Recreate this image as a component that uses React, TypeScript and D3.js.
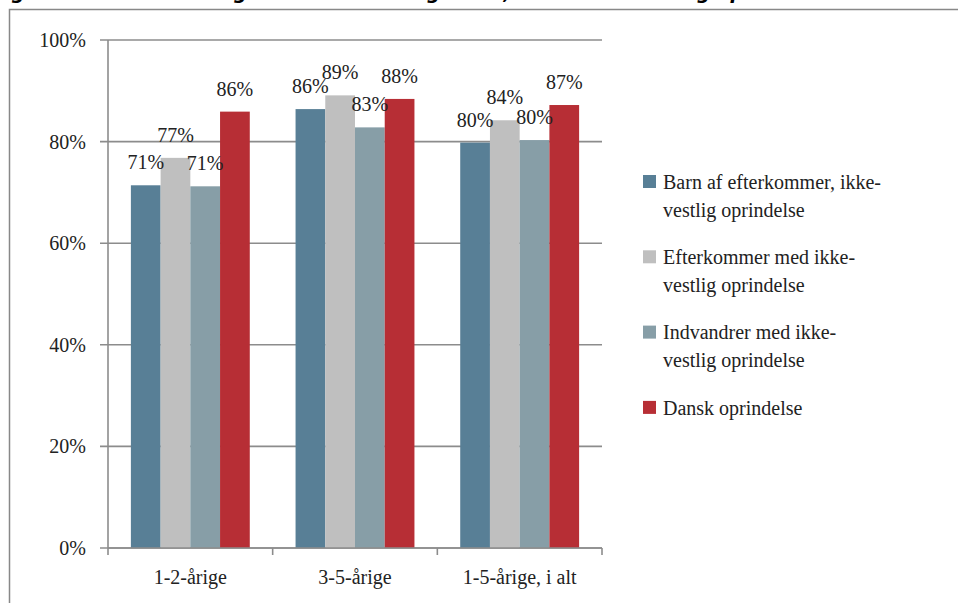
import React from "react";
import * as d3 from "d3";

const categories = ["1-2-årige", "3-5-årige", "1-5-årige, i alt"];
const seriesNames = [
  ["Barn af efterkommer, ikke-", "vestlig oprindelse"],
  ["Efterkommer med ikke-", "vestlig oprindelse"],
  ["Indvandrer med ikke-", "vestlig oprindelse"],
  ["Dansk oprindelse"],
];
const seriesColors = ["#587f96", "#bfbfbf", "#879ea7", "#b72e35"];
const barnAfEfterkommer = [0.714, 0.864, 0.798];
const efterkommer = [0.768, 0.891, 0.842];
const indvandrer = [0.712, 0.828, 0.803];
const dansk = [0.859, 0.884, 0.872];
const seriesValues = [barnAfEfterkommer, efterkommer, indvandrer, dansk];
const yTicks = [0, 0.2, 0.4, 0.6, 0.8, 1.0];
const titleText = "Figur 4.2 Andel 1-5-årige indskrevet i dagtilbud, efter herkomst og oprindelse";

const W = 958;
const H = 603;
const plot = { left: 108, right: 602, top: 40, bottom: 548 };
const serif = "'Liberation Serif', 'DejaVu Serif', serif";
const axisGray = "#8c8c8c";
const txt = { fontFamily: serif, fontSize: "20px" };

export default function App() {
  const y = d3.scaleLinear().domain([0, 1]).range([plot.bottom, plot.top]);
  const x0 = d3.scaleBand<string>().domain(categories).range([plot.left, plot.right]).paddingInner(0).paddingOuter(0);
  const x1 = d3
    .scaleBand<number>()
    .domain(d3.range(seriesValues.length))
    .range([0, x0.bandwidth()])
    .paddingInner(0)
    .paddingOuter(0.77);
  const fmt = d3.format(".0%");

  const boundaries = [...categories.map((c) => x0(c) as number), plot.right];

  return (
    <svg
      width={W}
      height={H}
      style={{ position: "absolute", left: 0, top: 0, background: "#fff" }}
    >
      <rect width={W} height={H} fill="#fff" />
      {/* cropped title */}
      <text x={-8} y={-1} style={{ fontFamily: "'DejaVu Sans', sans-serif", fontWeight: "bold", fontStyle: "italic", fontSize: "19px" }} fill="#000">
        {titleText}
      </text>
      {/* frame */}
      <path d={`M9.5,${H} V9.5 H${W}`} fill="none" stroke="#888" strokeWidth={1.5} />

      {/* gridlines and y ticks */}
      {yTicks.map((t) => (
        <g key={t}>
          <line x1={plot.left - 8} x2={plot.right} y1={y(t)} y2={y(t)} stroke={axisGray} strokeWidth={1.6} />
          <text x={86} y={y(t)} dy="0.35em" textAnchor="end" style={txt} fill="#222">
            {fmt(t)}
          </text>
        </g>
      ))}

      {/* bars */}
      {categories.map((c, ci) => (
        <g key={c} transform={`translate(${x0(c)},0)`}>
          {seriesValues.map((vals, si) => {
            const v = vals[ci];
            const bx = x1(si) as number;
            return (
              <rect key={si} x={bx} y={y(v)} width={x1.bandwidth()} height={y(0) - y(v)} fill={seriesColors[si]} />
            );
          })}
        </g>
      ))}
      {/* value labels */}
      {categories.map((c, ci) => (
        <g key={c + "l"} transform={`translate(${x0(c)},0)`}>
          {seriesValues.map((vals, si) => {
            const v = vals[ci];
            const bx = (x1(si) as number) + x1.bandwidth() / 2;
            return (
              <text key={si} x={bx} y={y(v) - 16} textAnchor="middle" style={txt} fill="#222">
                {fmt(v)}
              </text>
            );
          })}
        </g>
      ))}

      {/* axes */}
      <line x1={plot.left} x2={plot.left} y1={plot.top} y2={plot.bottom} stroke={axisGray} strokeWidth={1.6} />
      <line x1={plot.left} x2={plot.right} y1={plot.bottom} y2={plot.bottom} stroke={axisGray} strokeWidth={1.6} />
      {boundaries.map((b, i) => (
        <line key={i} x1={b} x2={b} y1={plot.bottom} y2={plot.bottom + 7} stroke={axisGray} strokeWidth={1.6} />
      ))}
      {categories.map((c) => (
        <text key={c} x={(x0(c) as number) + x0.bandwidth() / 2} y={584} textAnchor="middle" style={txt} fill="#222">
          {c}
        </text>
      ))}

      {/* legend */}
      {seriesNames.map((lines, i) => {
        const cy = 182 + i * 75.3;
        return (
          <g key={i}>
            <rect x={643} y={cy - 7} width={13} height={13} fill={seriesColors[i]} />
            {lines.map((ln, li) => (
              <text key={li} x={663} y={cy + li * 28} dy="0.33em" style={txt} fill="#222">
                {ln}
              </text>
            ))}
          </g>
        );
      })}
    </svg>
  );
}
